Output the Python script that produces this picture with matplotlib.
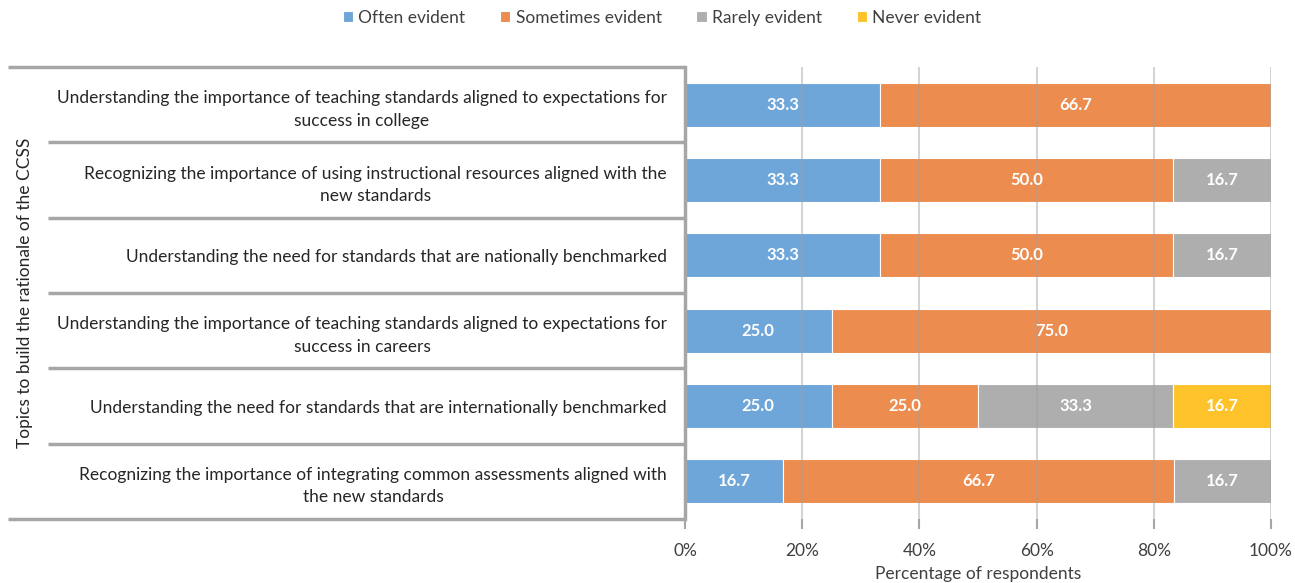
import matplotlib
matplotlib.use('Agg')
import matplotlib.pyplot as plt
from matplotlib.lines import Line2D
import numpy as np

plt.rcParams['font.family'] = ['Lato', 'DejaVu Sans']

topics = [
    'Understanding the importance of teaching standards aligned to expectations for\nsuccess in college',
    'Recognizing the importance of using instructional resources aligned with the\nnew standards',
    'Understanding the need for standards that are nationally benchmarked',
    'Understanding the importance of teaching standards aligned to expectations for\nsuccess in careers',
    'Understanding the need for standards that are internationally benchmarked',
    'Recognizing the importance of integrating common assessments aligned with\nthe new standards',
]
often = [33.3, 33.3, 33.3, 25.0, 25.0, 16.7]
sometimes = [66.7, 50.0, 50.0, 75.0, 25.0, 66.7]
rarely = [0, 16.7, 16.7, 0, 33.3, 16.7]
never = [0, 0, 0, 0, 16.7, 0]
series_names = ['Often evident', 'Sometimes evident', 'Rarely evident', 'Never evident']
colors = ['#6fa6d9', '#ec8c4e', '#aeaeae', '#fec22a']

W, H = 1295, 583
fig = plt.figure(figsize=(W / 100, H / 100), dpi=100)
x0, x1, ytop, ybot = 685, 1271, 67, 519
ax = fig.add_axes([x0 / W, 1 - ybot / H, (x1 - x0) / W, (ybot - ytop) / H])

y = np.arange(len(topics))
left = np.zeros(len(topics))
for name, vals, c in zip(series_names, [often, sometimes, rarely, never], colors):
    vals = np.array(vals, dtype=float)
    ax.barh(y, vals, left=left, height=0.58, color=c, edgecolor='white',
            linewidth=0.8, label=name, zorder=2)
    for yi, l, v in zip(y, left, vals):
        if v > 0:
            ax.text(l + v / 2, yi, f'{v:.1f}', ha='center', va='center',
                    color='white', fontsize=12, fontweight='bold', zorder=4)
    left += vals

ax.set_xlim(0, 100)
ax.set_ylim(len(topics) - 0.5, -0.5)
ax.set_xticks(np.arange(0, 101, 20))
ax.set_xticklabels([f'{t}%' for t in range(0, 101, 20)], fontsize=12.5, color='#404040')
ax.tick_params(axis='x', length=7, width=1.5, color='#a6a6a6', pad=10)
for t in range(20, 101, 20):
    ax.axvline(t, color='#a0a0a0', alpha=0.45, lw=1.5, zorder=3)

ax.set_yticks(y)
ax.set_yticklabels(topics, fontsize=12.5, color='#262626', multialignment='center',
                   linespacing=1.5)
ax.tick_params(axis='y', length=0, pad=13)

for s in ['top', 'right', 'bottom']:
    ax.spines[s].set_visible(False)
ax.spines['left'].set_color('#a6a6a6')
ax.spines['left'].set_linewidth(2.5)
ax.spines['left'].set_zorder(5)

ax.set_xlabel('Percentage of respondents', fontsize=12.5, color='#404040', labelpad=5)

# table rules on the category side
def hline(ypx, xstart):
    fig.add_artist(Line2D([xstart / W, x0 / W], [1 - ypx / H, 1 - ypx / H],
                          color='#a6a6a6', lw=2.5, solid_capstyle='butt'))

hline(ytop, 8)
hline(ybot, 8)
pitch = (ybot - ytop) / len(topics)
for i in range(1, len(topics)):
    hline(ytop + i * pitch, 48)

fig.text(25 / W, 1 - ((ytop + ybot) / 2) / H, 'Topics to build the rationale of the CCSS',
         rotation=90, ha='center', va='center', fontsize=12.5, color='#262626')

handles, labels = ax.get_legend_handles_labels()
fig.legend(handles, labels, loc='center', bbox_to_anchor=(662 / W, 1 - 18 / H), ncol=4,
           frameon=False, fontsize=12.5, handlelength=0.6, handleheight=0.6,
           handletextpad=0.3, columnspacing=2.0, labelcolor='#404040')

fig.savefig('out.png', dpi=100)
